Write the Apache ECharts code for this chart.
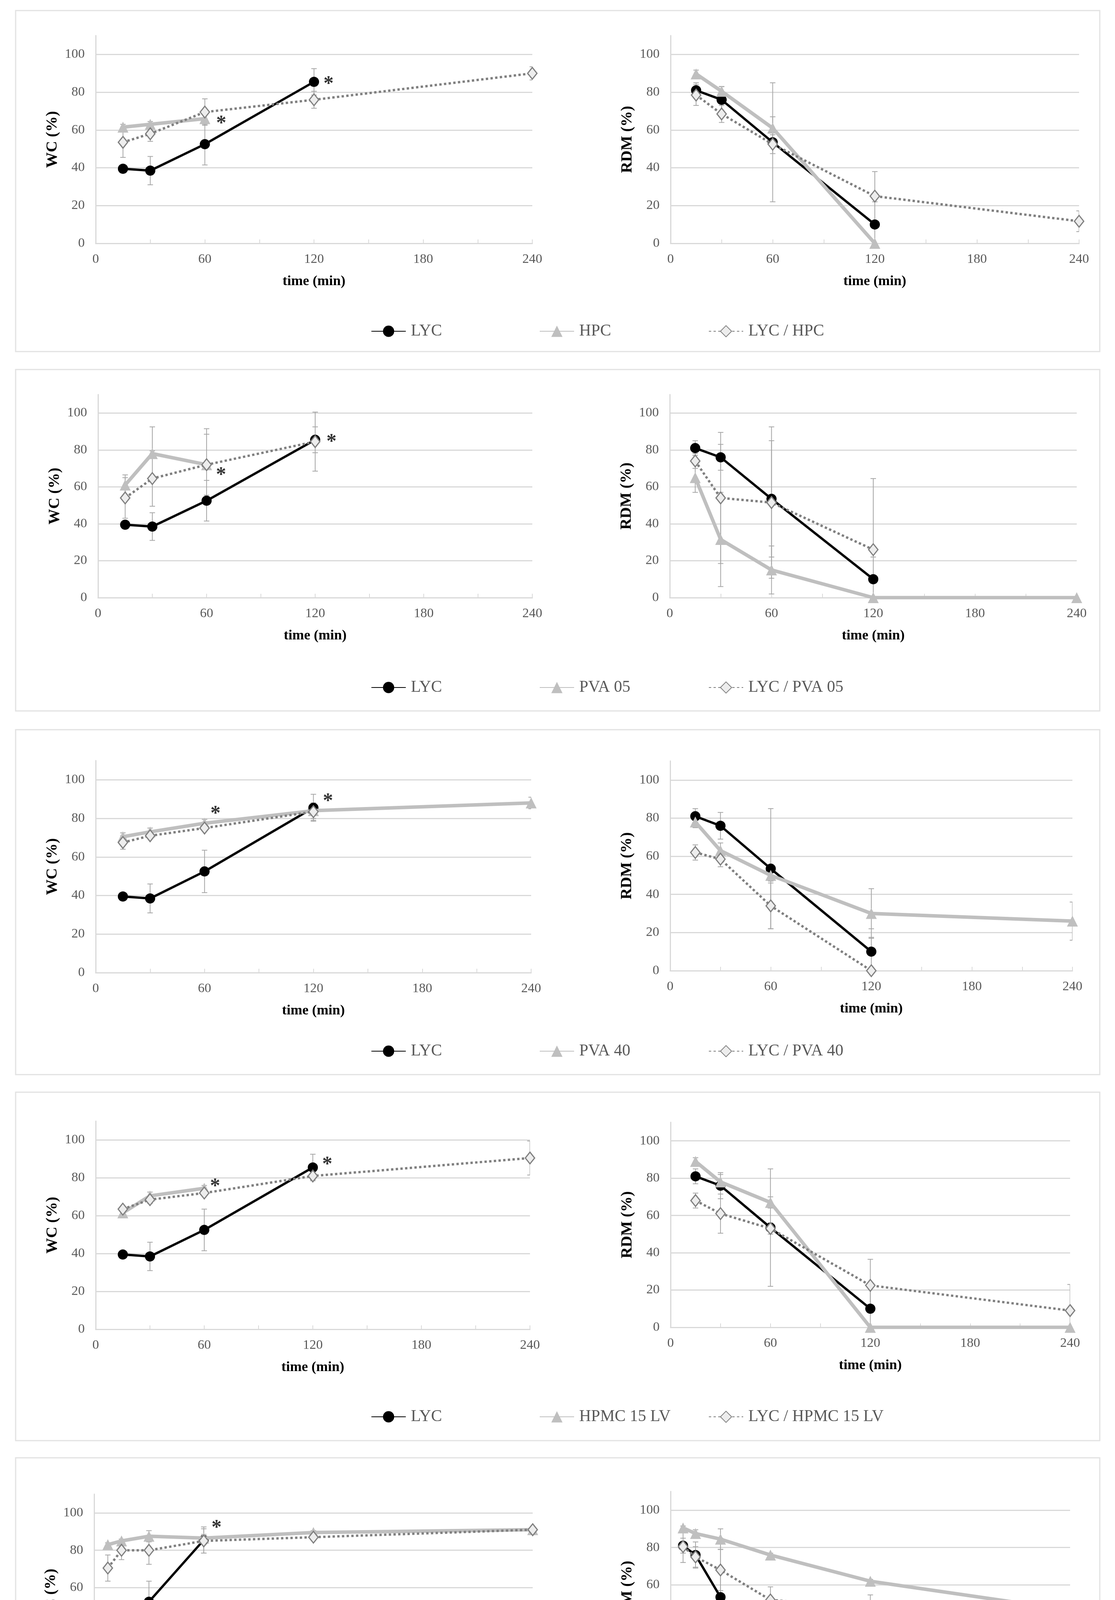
<!DOCTYPE html>
<html><head><meta charset="utf-8">
<script src="https://cdn.jsdelivr.net/npm/echarts@6/dist/echarts.min.js"></script>
<style>html,body{margin:0;padding:0;background:#fff}#c{width:2855px;height:4670px}</style>
</head><body><div id="c"></div>
<script>
// ---- DATA: [time (min), value (%), error half-width] ----
const wcLYC  = [[15,39.5,1],[30,38.5,7.5],[60,52.5,11],[120,85.5,7]];
const rdmLYC = [[15,81,4],[30,76,7],[60,53.5,31.5],[120,10,12]];

const wcHPC      = [[15,61.5,1.5],[30,63,1.5],[60,66,3]];
const wcLYC_HPC  = [[15,53.5,8],[30,58,4],[60,69.5,7],[120,76,4.5],[240,90,3.5]];
const rdmHPC     = [[15,89.7,2],[30,80.5,2.5],[60,61,6],[120,0,0]];
const rdmLYC_HPC = [[15,78.5,5.5],[30,68.5,4.5],[60,52.5,5],[120,25,13],[240,11.7,5.5]];
const starsHPC   = [[128,86],[69,65]];

const wcPVA05      = [[15,61,5.5],[30,78,14.5],[60,72,19.5]];
const wcLYC_PVA05  = [[15,54,11],[30,64.5,15],[60,72,16.5],[120,84.5,16]];
const rdmPVA05     = [[15,65,8],[30,31.5,25.5],[60,15,13],[120,0,0],[240,0,0]];
const rdmLYC_PVA05 = [[15,74,4],[30,54,35.5],[60,51.5,41],[120,26,38.5]];
const starsPVA05   = [[129,86],[68,68]];

const wcPVA40      = [[15,70.5,2],[30,73,2],[60,77.5,2],[120,84,4],[240,88,3]];
const wcLYC_PVA40  = [[15,67.5,3.5],[30,71,1.5],[60,75,1.5],[120,83.5,4.5]];
const rdmPVA40     = [[15,78,3],[30,63,4],[60,50,3],[120,30,13],[240,26,10]];
const rdmLYC_PVA40 = [[15,62,4],[30,58.5,4],[60,34,12],[120,0,17.5]];
const starsPVA40   = [[128,90.5],[66,84]];

const wcHPMC15      = [[15,61.5,1.5],[30,70.5,2],[60,74.5,1.5]];
const wcLYC_HPMC15  = [[15,63.5,1.5],[30,68.5,2],[60,72,1.5],[120,81,2],[240,90.5,9]];
const rdmHPMC15     = [[15,89,2],[30,78,4],[60,67,3],[120,0,0],[240,0,0]];
const rdmLYC_HPMC15 = [[15,68,4],[30,61,10.5],[60,53,3],[120,22.5,14],[240,9,14]];
const starsHPMC15   = [[128,88.7],[66,77]];

const wcHPMC4M      = [[15,83,1],[30,85,1],[60,87.5,3],[120,86.5,2],[240,89.5,1],[480,91,1]];
const wcLYC_HPMC4M  = [[15,70.5,7],[30,80,5],[60,80,7.5],[120,85,6.5],[240,87,1],[480,91,1]];
const rdmHPMC4M     = [[15,90.5,1],[30,87.5,2],[60,84.5,5.5],[120,76,1],[240,62,1],[480,46.5,1]];
const rdmLYC_HPMC4M = [[15,80.5,8.5],[30,75,5.5],[60,68,11],[120,52,7],[240,48,6.7],[480,31,1]];
const starsHPMC4M   = [[134,93.5]];

const polymerNames = ['HPC','PVA 05','PVA 40','HPMC 15 LV','HPMC 4M'];
const mixNames = ['LYC / HPC','LYC / PVA 05','LYC / PVA 40','LYC / HPMC 15 LV','LYC / HPMC 4M'];
const xMaxes = [240,240,240,240,480];
const yTitles = ['WC (%)','RDM (%)'];
const xTitle = 'time (min)';

const rowsData = [
  {poly:wcHPC, mix:wcLYC_HPC, rpoly:rdmHPC, rmix:rdmLYC_HPC, stars:starsHPC},
  {poly:wcPVA05, mix:wcLYC_PVA05, rpoly:rdmPVA05, rmix:rdmLYC_PVA05, stars:starsPVA05},
  {poly:wcPVA40, mix:wcLYC_PVA40, rpoly:rdmPVA40, rmix:rdmLYC_PVA40, stars:starsPVA40},
  {poly:wcHPMC15, mix:wcLYC_HPMC15, rpoly:rdmHPMC15, rmix:rdmLYC_HPMC15, stars:starsHPMC15},
  {poly:wcHPMC4M, mix:wcLYC_HPMC4M, rpoly:rdmHPMC4M, rmix:rdmLYC_HPMC4M, stars:starsHPMC4M}
];

// ---- LAYOUT (page pixels) ----
const boxes = [[27,900],[946,1820],[1868,2751],[2796,3688],[3732,4634]];
const gridsL = [[245,91,1118,532],[251,1010,1112,520],[245,1947,1115,543],[245,2870,1112,533],[241,3825,1123,527]];
const gridsR = [[1717,91,1046,532],[1715,1010,1042,520],[1716,1948,1030,537],[1717,2873,1023,525],[1717,3818,1023,527]];
const legendY = [843,1755,2686,3622,4562];
const legendX = [945,1376,1809];

const FONT = '"Liberation Serif","Times New Roman",serif';
const C_GRID = '#d9d9d9', C_LBL = '#595959', C_GREY = '#bfbfbf', C_DOT = '#7f7f7f', C_ERR = '#a6a6a6';

function errRender(params, api) {
  const x = api.value(0), y = api.value(1), e = api.value(2);
  if (!e) return null;
  const t = api.coord([x, y + e]), b = api.coord([x, y - e]);
  const cw = 7, st = {stroke: C_ERR, lineWidth: 2};
  return {type: 'group', children: [
    {type: 'line', shape: {x1: t[0], y1: t[1], x2: b[0], y2: b[1]}, style: st},
    {type: 'line', shape: {x1: t[0]-cw, y1: t[1], x2: t[0]+cw, y2: t[1]}, style: st},
    {type: 'line', shape: {x1: b[0]-cw, y1: b[1], x2: b[0]+cw, y2: b[1]}, style: st}
  ]};
}

const grid = [], xAxis = [], yAxis = [], series = [], legend = [], graphic = [];

function addChart(idx, g, xmax, ytitle, lyc, poly, mix, polyName, mixName, stars) {
  grid.push({left: g[0], top: g[1], width: g[2], height: g[3], containLabel: false});
  xAxis.push({type: 'value', gridIndex: idx, min: 0, max: xmax, interval: 30,
    axisLine: {show: true, onZero: false, lineStyle: {color: C_GRID, width: 3}},
    axisTick: {show: true, inside: true, length: 10, lineStyle: {color: C_GRID, width: 2}},
    axisLabel: {formatter: v => (v % 60 === 0 ? String(v) : ''), color: C_LBL, fontFamily: FONT, fontSize: 34, margin: 24},
    splitLine: {show: false},
    name: xTitle, nameLocation: 'middle', nameGap: 80,
    nameTextStyle: {fontFamily: FONT, fontSize: 36, fontWeight: 'bold', color: '#000'}});
  yAxis.push({type: 'value', gridIndex: idx, min: 0, max: 110, interval: 20,
    axisLine: {show: true, lineStyle: {color: C_GRID, width: 3}},
    axisTick: {show: false},
    axisLabel: {showMaxLabel: false, formatter: v => (v > 100 ? '' : String(v)), color: C_LBL, fontFamily: FONT, fontSize: 34, margin: 28},
    splitLine: {show: true, showMinLine: false, showMaxLine: false, lineStyle: {color: C_GRID, width: 3}},
    name: ytitle, nameLocation: 'middle', nameGap: 90, nameRotate: 90,
    nameTextStyle: {fontFamily: FONT, fontSize: 40, fontWeight: 'bold', color: '#000'}});
  const base = {xAxisIndex: idx, yAxisIndex: idx};
  [[lyc,'LYC'],[poly,polyName],[mix,mixName]].forEach(([d,n]) => {
    series.push(Object.assign({type: 'custom', name: n + ' err', renderItem: errRender, data: d, clip: true, z: 1, silent: true,
      encode: {x: 0, y: 1}}, base));
  });
  series.push(Object.assign({type: 'line', name: 'LYC', data: lyc.map(d => [d[0], d[1]]),
    symbol: 'circle', symbolSize: 26, lineStyle: {color: '#000', width: 6}, itemStyle: {color: '#000'}, z: 2}, base));
  series.push(Object.assign({type: 'line', name: polyName, data: poly.map(d => [d[0], d[1]]),
    symbol: 'triangle', symbolSize: 28, lineStyle: {color: C_GREY, width: 9}, itemStyle: {color: C_GREY}, z: 3}, base));
  series.push(Object.assign({type: 'line', name: mixName, data: mix.map(d => [d[0], d[1]]),
    symbol: 'diamond', symbolSize: [24, 30], lineStyle: {color: C_DOT, width: 6, type: [6, 6]},
    itemStyle: {color: '#ededed', borderColor: C_DOT, borderWidth: 3}, z: 4}, base));
  if (stars) {
    series.push(Object.assign({type: 'scatter', name: 'signif', data: stars, symbol: 'circle', symbolSize: 1,
      itemStyle: {color: 'rgba(0,0,0,0)'}, silent: true, z: 5,
      label: {show: true, formatter: '*', position: 'inside', fontSize: 52, fontWeight: 'bold', fontFamily: FONT, color: '#000', offset: [0, 9]}}, base));
  }
}

rowsData.forEach((r, i) => {
  addChart(2*i, gridsL[i], xMaxes[i], yTitles[0], wcLYC, r.poly, r.mix, polymerNames[i], mixNames[i], r.stars);
  addChart(2*i+1, gridsR[i], xMaxes[i], yTitles[1], rdmLYC, r.rpoly, r.rmix, polymerNames[i], mixNames[i], null);
  ['LYC', polymerNames[i], mixNames[i]].forEach((n, k) => {
    legend.push({data: [n], left: legendX[k], top: legendY[i] - 21, itemWidth: 88, itemHeight: 36, selectedMode: false,
      textStyle: {fontFamily: FONT, fontSize: 42, color: C_LBL, padding: [0, 0, 0, 8]}});
  });
  graphic.push({type: 'rect', silent: true, z: -10,
    shape: {x: 40, y: boxes[i][0], width: 2776, height: boxes[i][1] - boxes[i][0]},
    style: {fill: 'none', stroke: '#e2e2e2', lineWidth: 3}});
});

const chart = echarts.init(document.getElementById('c'), null, {renderer: 'canvas'});
chart.setOption({animation: false, backgroundColor: '#fff', grid, xAxis, yAxis, series, legend, graphic});
</script></body></html>
